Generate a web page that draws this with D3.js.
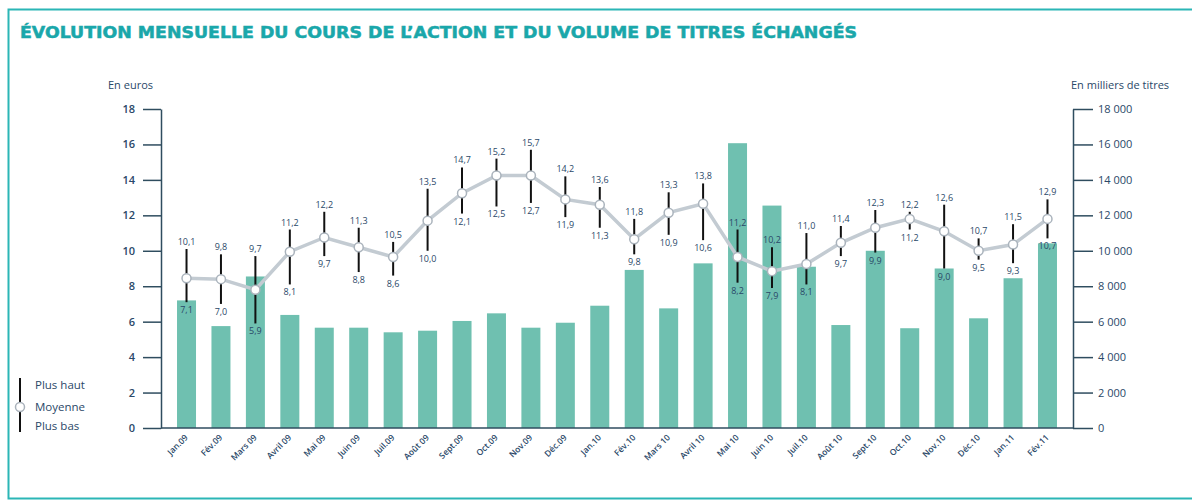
<!DOCTYPE html>
<html>
<head>
<meta charset="utf-8">
<script src="https://cdn.jsdelivr.net/npm/d3@7"></script>
<style>
  body { margin: 0; background: #fff; }
  text { font-family: "Open Sans", "Noto Sans", sans-serif; }
</style>
</head>
<body>
<svg id="chart" width="1192" height="502"></svg>
<script>
// months, volume (milliers de titres), cours (euros)
const months = ["Jan.09", "Fév.09", "Mars 09", "Avril 09", "Mai 09", "Juin 09", "Juil.09", "Août 09",
  "Sept.09", "Oct.09", "Nov.09", "Déc.09", "Jan.10", "Fév.10", "Mars 10", "Avril 10", "Mai 10",
  "Juin 10", "Juil.10", "Août 10", "Sept.10", "Oct.10", "Nov.10", "Déc.10", "Jan.11", "Fév.11"];
const volumes = [7200, 5750, 8550, 6380, 5660, 5660, 5400, 5490, 6040, 6470, 5660, 5940, 6900,
  8920, 6750, 9290, 16070, 12550, 9100, 5810, 10000, 5630, 9000, 6190, 8450, 10420];
const highs = [10.1, 9.8, 9.7, 11.2, 12.2, 11.3, 10.5, 13.5, 14.7, 15.2, 15.7, 14.2, 13.6, 11.8,
  13.3, 13.8, 11.2, 10.2, 11.0, 11.4, 12.3, 12.2, 12.6, 10.7, 11.5, 12.9];
const lows = [7.1, 7.0, 5.9, 8.1, 9.7, 8.8, 8.6, 10.0, 12.1, 12.5, 12.7, 11.9, 11.3, 9.8, 10.9,
  10.6, 8.2, 7.9, 8.1, 9.7, 9.9, 11.2, 9.0, 9.5, 9.3, 10.7];
const means = [8.45, 8.4, 7.8, 9.95, 10.75, 10.2, 9.65, 11.7, 13.25, 14.25, 14.25, 12.9, 12.6,
  10.65, 12.15, 12.65, 9.65, 8.85, 9.25, 10.45, 11.3, 11.8, 11.1, 10.0, 10.35, 11.8];
const euroTicks = [0, 2, 4, 6, 8, 10, 12, 14, 16, 18];
const volTicks = [0, 2000, 4000, 6000, 8000, 10000, 12000, 14000, 16000, 18000];

const data = months.map((m, i) => ({ m, vol: volumes[i], hi: highs[i], lo: lows[i], avg: means[i] }));

const teal = "#2bb6b6";
const barColor = "#6fc0b0";
const textColor = "#2a4868";
const axisColor = "#2f4d5f";

const svg = d3.select("#chart");

// frame
svg.append("rect")
  .attr("x", 8.5).attr("y", 9.5)
  .attr("width", 1200).attr("height", 489)
  .attr("fill", "none").attr("stroke", teal).attr("stroke-width", 2);

svg.append("text")
  .attr("x", 20).attr("y", 38)
  .attr("textLength", 837).attr("lengthAdjust", "spacingAndGlyphs")
  .style("font-family", "'Liberation Sans Narrow', 'DejaVu Sans Condensed', 'Liberation Sans', sans-serif")
  .style("font-weight", "bold").style("font-size", "16.5px")
  .attr("fill", "#1aa7aa").attr("stroke", "#1aa7aa").attr("stroke-width", 0.5)
  .text("ÉVOLUTION MENSUELLE DU COURS DE L’ACTION ET DU VOLUME DE TITRES ÉCHANGÉS");

const x = d3.scaleBand().domain(months).range([169.3, 1064.7]).padding(0);
const y = d3.scaleLinear().domain([0, 18]).range([428, 109]);
const yVol = d3.scaleLinear().domain([0, 18000]).range([428, 109]);
const cx = (d) => x(d.m) + x.bandwidth() / 2;
const barW = 19;
const fmt = (v) => v.toFixed(1).replace(".", ",");

// bars
svg.append("g").selectAll("rect")
  .data(data).enter().append("rect")
  .attr("x", (d) => cx(d) - barW / 2)
  .attr("y", (d) => yVol(d.vol))
  .attr("width", barW)
  .attr("height", (d) => yVol(0) - yVol(d.vol))
  .attr("fill", barColor);

// axes
const leftAxis = svg.append("g")
  .attr("transform", "translate(161,0)")
  .call(d3.axisLeft(y).tickValues(euroTicks).tickSize(18).tickPadding(8).tickSizeOuter(0));
const rightAxis = svg.append("g")
  .attr("transform", "translate(1073,0)")
  .call(d3.axisRight(yVol).tickValues(volTicks).tickSize(20).tickPadding(5).tickSizeOuter(0)
    .tickFormat((v) => d3.format(",")(v).replace(",", " ")));
[leftAxis, rightAxis].forEach((g) => {
  g.select(".domain").attr("stroke", axisColor).attr("stroke-width", 1.5);
  g.selectAll(".tick line").attr("stroke", axisColor).attr("stroke-width", 1.5);
  g.selectAll(".tick text").attr("fill", textColor).style("font-size", "11px")
    .style("font-family", "'Open Sans', sans-serif");
});
leftAxis.selectAll(".tick text").style("font-weight", "600");

// baseline
svg.append("line")
  .attr("x1", 161).attr("x2", 1073).attr("y1", y(0)).attr("y2", y(0))
  .attr("stroke", axisColor).attr("stroke-width", 1.5);

svg.append("text").attr("x", 108).attr("y", 89).attr("fill", textColor)
  .style("font-size", "11px").text("En euros");
svg.append("text").attr("x", 1071).attr("y", 89).attr("fill", textColor)
  .style("font-size", "11px").text("En milliers de titres");

// x labels
svg.append("g").selectAll("text")
  .data(data).enter().append("text")
  .attr("transform", (d) => `translate(${cx(d) + 2},${438}) rotate(-45)`)
  .attr("text-anchor", "end")
  .attr("fill", textColor)
  .style("font-size", "8.5px").style("font-weight", "600")
  .text((d) => d.m);

// high-low ranges
svg.append("g").selectAll("line")
  .data(data).enter().append("line")
  .attr("x1", cx).attr("x2", cx)
  .attr("y1", (d) => y(d.hi)).attr("y2", (d) => y(d.lo))
  .attr("stroke", "#111").attr("stroke-width", 2);

// average line
svg.append("path")
  .datum(data)
  .attr("fill", "none")
  .attr("stroke", "#c3cbd2")
  .attr("stroke-width", 3.5)
  .attr("d", d3.line().x(cx).y((d) => y(d.avg)));

svg.append("g").selectAll("circle")
  .data(data).enter().append("circle")
  .attr("cx", cx).attr("cy", (d) => y(d.avg))
  .attr("r", 4.5)
  .attr("fill", "#fff").attr("stroke", "#aab3bc").attr("stroke-width", 1.5);

// value labels
const labels = svg.append("g").attr("fill", textColor).style("font-size", "9px")
  .attr("text-anchor", "middle");
labels.selectAll(".hi").data(data).enter().append("text")
  .attr("class", "hi")
  .attr("x", cx).attr("y", (d) => y(d.hi) - 4)
  .text((d) => fmt(d.hi));
labels.selectAll(".lo").data(data).enter().append("text")
  .attr("class", "lo")
  .attr("x", cx).attr("y", (d) => y(d.lo) + 11)
  .text((d) => fmt(d.lo));

// legend
const leg = svg.append("g");
leg.append("line").attr("x1", 20).attr("x2", 20).attr("y1", 378).attr("y2", 432)
  .attr("stroke", "#111").attr("stroke-width", 2);
leg.append("circle").attr("cx", 20).attr("cy", 407).attr("r", 4.5)
  .attr("fill", "#fff").attr("stroke", "#aab3bc").attr("stroke-width", 1.5);
[["Plus haut", 389], ["Moyenne", 411], ["Plus bas", 430]].forEach(([t, ty]) => {
  leg.append("text").attr("x", 35).attr("y", ty).attr("fill", textColor)
    .style("font-size", "11.5px").text(t);
});
</script>
</body>
</html>
